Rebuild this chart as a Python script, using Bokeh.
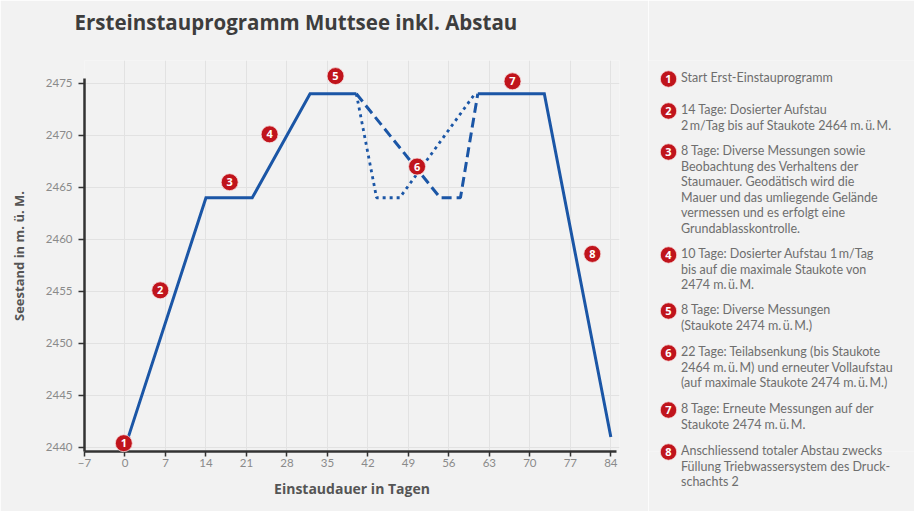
from bokeh.plotting import figure
from bokeh.models import Range1d, FixedTicker, ColumnDataSource
from bokeh.layouts import row
from bokeh.embed import file_html
from bokeh.resources import INLINE
from bokeh.core.properties import value

# ---------------- data ----------------
title_text = "Ersteinstauprogramm Muttsee inkl. Abstau"
x_label = "Einstaudauer in Tagen"
y_label = "Seestand in m. ü. M."

x_ticks = [-7, 0, 7, 14, 21, 28, 35, 42, 49, 56, 63, 70, 77, 84]
y_ticks = [2440, 2445, 2450, 2455, 2460, 2465, 2470, 2475]

# solid main course (NaN separates the two solid parts)
solid_days = [0, 14, 22, 32, 40, float("nan"), 61, 72.5, 84]
solid_level = [2440, 2464, 2464, 2474, 2474, float("nan"), 2474, 2474, 2441]

# dashed variant of phase 6
dash_days = [40, 54.5, 58, 61]
dash_level = [2474, 2464, 2464, 2474]

# dotted variant of phase 6
dot_days = [40, 43.5, 47.5, 60.5]
dot_level = [2474, 2464, 2464, 2474]

# numbered markers
marker_days = [-0.2, 6.1, 18.1, 25.0, 36.4, 50.5, 67.0, 80.8]
marker_level = [2440.4, 2455.1, 2465.5, 2470.1, 2475.7, 2467.0, 2475.2, 2458.6]
marker_num = ["1", "2", "3", "4", "5", "6", "7", "8"]

T = "\u2009"  # thin space as in the print
legend_items = [
    ["Start Erst-Einstauprogramm"],
    ["14 Tage: Dosierter Aufstau", f"2{T}m/Tag bis auf Staukote 2464 m.{T}ü.{T}M."],
    ["8 Tage: Diverse Messungen sowie", "Beobachtung des Verhaltens der",
     "Staumauer. Geodätisch wird die", "Mauer und das umliegende Gelände",
     "vermessen und es erfolgt eine", "Grundablasskontrolle."],
    [f"10 Tage: Dosierter Aufstau 1{T}m/Tag", "bis auf die maximale Staukote von",
     f"2474 m.{T}ü.{T}M."],
    ["8 Tage: Diverse Messungen", f"(Staukote 2474 m.{T}ü.{T}M.)"],
    ["22 Tage: Teilabsenkung (bis Staukote", f"2464 m.{T}ü.{T}M) und erneuter Vollaufstau",
     f"(auf maximale Staukote 2474 m.{T}ü.{T}M.)"],
    ["8 Tage: Erneute Messungen auf der", f"Staukote 2474 m.{T}ü.{T}M."],
    ["Anschliessend totaler Abstau zwecks", "Füllung Triebwassersystem des Druck-",
     "schachts 2"],
]

# ---------------- layout / styles ----------------
W, H = 914, 511
MAIN_W = 648
BORDER_L, BORDER_R, BORDER_T, BORDER_B = 84, 29, 60, 60
X0, X1 = -7, 85.5
Y0, Y1 = 2439.6, 2477.2
legend_top = [77, 109, 150, 253, 309, 351, 408, 450]   # layout: first-line position of each entry
line_step = 15.5
title_px = (74, 21)   # layout: left / middle of the title on the page

BG = "#f2f2f2"
BLUE = "#1b56a6"
RED = "#c0141c"
AXIS = "#333333"
TICK_TXT = "#8a8a8a"
LBL = "#555555"

p = figure(width=MAIN_W, height=H,
           x_range=Range1d(X0, X1), y_range=Range1d(Y0, Y1),
           output_backend="svg", toolbar_location=None,
           min_border_left=BORDER_L, min_border_right=BORDER_R,
           min_border_top=BORDER_T, min_border_bottom=BORDER_B,
           background_fill_color=BG, border_fill_color=BG)
p.outline_line_color = None

# title, drawn above the frame (overlay level is not clipped to the frame)
px_x = (MAIN_W - BORDER_L - BORDER_R) / (X1 - X0)
px_y = (H - BORDER_T - BORDER_B) / (Y1 - Y0)
p.text(x=[X0 + (title_px[0] - BORDER_L) / px_x],
       y=[Y1 + (BORDER_T - title_px[1]) / px_y],
       text=[title_text], text_font=value("Open Sans"), text_font_size="20.5px",
       text_font_style="bold", text_color="#3d3d3d",
       text_align="left", text_baseline="middle", level="overlay")

for ax in (p.xaxis[0], p.yaxis[0]):
    ax.axis_line_color = AXIS
    ax.axis_line_width = 2.5
    ax.major_tick_line_color = AXIS
    ax.major_tick_line_width = 1.5
    ax.major_tick_out = 6
    ax.major_tick_in = 0
    ax.minor_tick_line_color = None
    ax.major_label_text_font = "Lato"
    ax.major_label_text_font_size = "11.5px"
    ax.major_label_text_color = TICK_TXT
    ax.axis_label_text_font = "Open Sans"
    ax.axis_label_text_font_style = "bold"
    ax.axis_label_text_color = LBL

p.xaxis.ticker = FixedTicker(ticks=x_ticks)
p.yaxis.ticker = FixedTicker(ticks=y_ticks)
p.xaxis.bounds = (-7, 85)
p.yaxis.bounds = (Y0, 2475.5)
p.xaxis.axis_label = x_label
p.yaxis.axis_label = y_label
p.xaxis.axis_label_text_font_size = "14px"
p.yaxis.axis_label_text_font_size = "13px"
p.xaxis.major_tick_out = 5
p.xaxis.major_label_standoff = 2
p.yaxis.major_label_standoff = 6
p.xaxis.axis_label_standoff = 9
p.yaxis.axis_label_standoff = 15

p.xgrid.ticker = FixedTicker(ticks=x_ticks)
p.ygrid.ticker = FixedTicker(ticks=y_ticks)
p.xgrid.grid_line_color = "#e2e2e2"
p.ygrid.grid_line_color = "#e2e2e2"

p.line(solid_days, solid_level, line_color=BLUE, line_width=3, line_join="miter")
p.line(dash_days, dash_level, line_color=BLUE, line_width=3, line_dash="10 5")
p.line(dot_days, dot_level, line_color=BLUE, line_width=2.8, line_dash="3 4")

msrc = ColumnDataSource(dict(x=marker_days, y=marker_level, t=marker_num))
p.scatter("x", "y", source=msrc, marker="circle", size=17,
          fill_color=RED, line_color="#f7dede", line_width=0.8, level="overlay")
p.text("x", "y", text="t", source=msrc, text_color="white",
       text_font=value("Open Sans"), text_font_style="bold",
       text_font_size="11px", text_align="center", text_baseline="middle",
       level="overlay")

# ---------------- legend panel (coordinates = pixels of the page) ----------------
LW = W - MAIN_W
frame_bottom = H - BORDER_B
lg = figure(width=LW, height=H, x_range=Range1d(MAIN_W, W),
            y_range=Range1d(frame_bottom, BORDER_T),
            output_backend="svg", toolbar_location=None,
            x_axis_type=None, y_axis_type=None,
            min_border_left=0, min_border_right=0,
            min_border_top=BORDER_T, min_border_bottom=BORDER_B,
            background_fill_color=BG, border_fill_color=BG)
lg.outline_line_color = None
lg.xgrid.visible = False
lg.ygrid.visible = False

circ_y, circ_t, txt_y, txt = [], [], [], []
for i, lines in enumerate(legend_items):
    circ_y.append(legend_top[i] + 1.5)
    circ_t.append(marker_num[i])
    for k, ln in enumerate(lines):
        txt_y.append(legend_top[i] + k * line_step)
        txt.append(ln)

csrc = ColumnDataSource(dict(x=[MAIN_W + 20] * len(circ_y), y=circ_y, t=circ_t))
lg.scatter("x", "y", source=csrc, marker="circle", size=16.5,
           fill_color=RED, line_color="#f7dede", line_width=0.8, level="overlay")
lg.text("x", "y", text="t", source=csrc, text_color="white",
        text_font=value("Open Sans"), text_font_style="bold",
        text_font_size="11px", text_align="center", text_baseline="middle",
        level="overlay")
tsrc = ColumnDataSource(dict(x=[MAIN_W + 32.5] * len(txt_y), y=txt_y, t=txt))
lg.text("x", "y", text="t", source=tsrc, text_color="#6e6e6e",
        text_font=value("Lato"), text_font_size="12.5px",
        text_align="left", text_baseline="middle", level="overlay")

layout = row(p, lg)
open("out.html", "w").write(file_html(layout, INLINE))
